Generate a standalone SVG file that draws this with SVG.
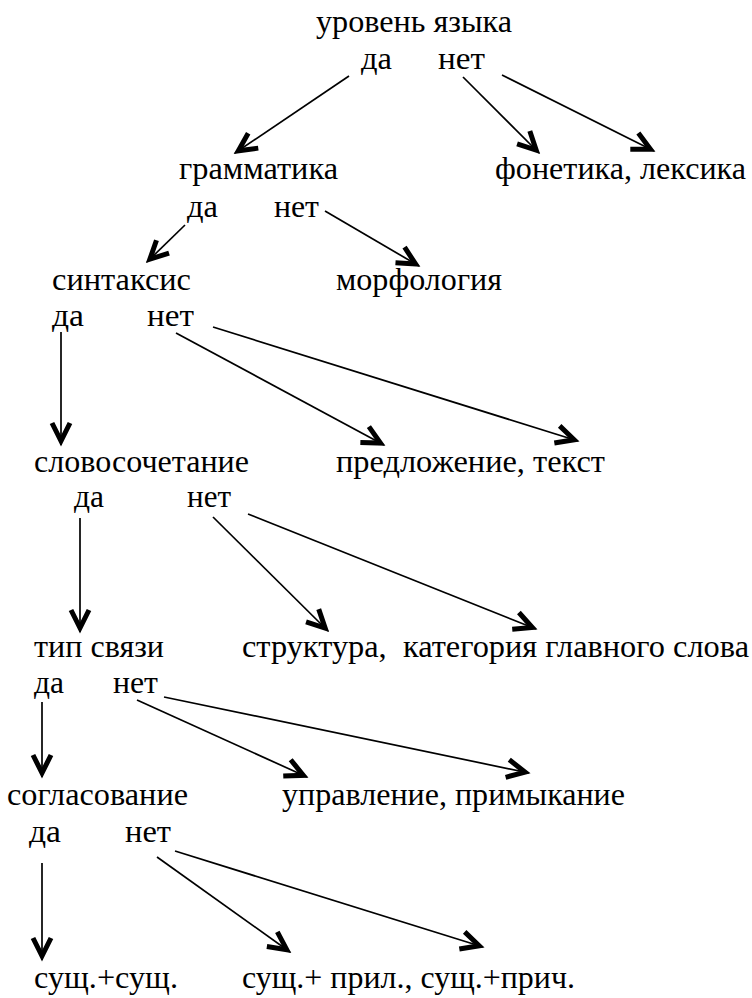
<svg xmlns="http://www.w3.org/2000/svg" width="752" height="998" viewBox="0 0 752 998">
<style>
.t text{font-size:31px;fill:#000;white-space:pre}
.c line{stroke:#000;stroke-width:1.7;marker-end:url(#v)}
</style>
<defs>
<marker id="v" viewBox="0 0 28 22" refX="25" refY="11" markerWidth="28" markerHeight="22" markerUnits="userSpaceOnUse" orient="auto" overflow="visible">
<path d="M3,2 L21,11 L3,20" fill="none" stroke="#000" stroke-width="5"/>
</marker>
</defs>
<rect width="752" height="998" fill="#fff"/>
<g class="t" font-family="'Liberation Serif', 'DejaVu Serif', serif">
<g id="n-uroven"><text x="316" y="32" textLength="196" lengthAdjust="spacingAndGlyphs">уровень языка</text><text x="361" y="69" textLength="31" lengthAdjust="spacingAndGlyphs">да</text><text x="438" y="69" textLength="47" lengthAdjust="spacingAndGlyphs">нет</text></g>
<g id="n-gram"><text x="179" y="179" textLength="159" lengthAdjust="spacingAndGlyphs">грамматика</text><text x="187" y="217" textLength="31" lengthAdjust="spacingAndGlyphs">да</text><text x="274" y="217" textLength="45" lengthAdjust="spacingAndGlyphs">нет</text></g>
<g id="n-fonet"><text x="495" y="179" textLength="251" lengthAdjust="spacingAndGlyphs">фонетика, лексика</text></g>
<g id="n-sint"><text x="52" y="290" textLength="139" lengthAdjust="spacingAndGlyphs">синтаксис</text><text x="52" y="326" textLength="32" lengthAdjust="spacingAndGlyphs">да</text><text x="147" y="326" textLength="47" lengthAdjust="spacingAndGlyphs">нет</text></g>
<g id="n-morf"><text x="336" y="290" textLength="166" lengthAdjust="spacingAndGlyphs">морфология</text></g>
<g id="n-slovos"><text x="34" y="472" textLength="215" lengthAdjust="spacingAndGlyphs">словосочетание</text><text x="74" y="507" textLength="30" lengthAdjust="spacingAndGlyphs">да</text><text x="187" y="507" textLength="44" lengthAdjust="spacingAndGlyphs">нет</text></g>
<g id="n-predl"><text x="336" y="472" textLength="269" lengthAdjust="spacingAndGlyphs">предложение, текст</text></g>
<g id="n-tip"><text x="34" y="657" textLength="130" lengthAdjust="spacingAndGlyphs">тип связи</text><text x="34" y="693" textLength="30" lengthAdjust="spacingAndGlyphs">да</text><text x="113" y="693" textLength="45" lengthAdjust="spacingAndGlyphs">нет</text></g>
<g id="n-strukt"><text x="242" y="657" textLength="507" lengthAdjust="spacingAndGlyphs">структура,  категория главного слова</text></g>
<g id="n-sogl"><text x="7" y="805" textLength="181" lengthAdjust="spacingAndGlyphs">согласование</text><text x="29" y="842" textLength="32" lengthAdjust="spacingAndGlyphs">да</text><text x="125" y="842" textLength="46" lengthAdjust="spacingAndGlyphs">нет</text></g>
<g id="n-uprav"><text x="282" y="805" textLength="343" lengthAdjust="spacingAndGlyphs">управление, примыкание</text></g>
<g id="n-ss"><text x="34" y="988" textLength="144" lengthAdjust="spacingAndGlyphs">сущ.+сущ.</text></g>
<g id="n-sp"><text x="242" y="988" textLength="333" lengthAdjust="spacingAndGlyphs">сущ.+ прил., сущ.+прич.</text></g>
</g>
<g id="connectors" class="c">
<line x1="349" y1="76" x2="235" y2="153"/>
<line x1="463" y1="77" x2="539" y2="153"/>
<line x1="502" y1="75" x2="654" y2="151"/>
<line x1="185" y1="225" x2="147" y2="262"/>
<line x1="325" y1="211" x2="419" y2="266"/>
<line x1="61" y1="332" x2="61" y2="445"/>
<line x1="176" y1="333" x2="384" y2="445"/>
<line x1="213" y1="327" x2="578" y2="441"/>
<line x1="80" y1="518" x2="80" y2="632"/>
<line x1="213" y1="517" x2="328" y2="631"/>
<line x1="248" y1="514" x2="536" y2="629"/>
<line x1="42" y1="702" x2="42" y2="777"/>
<line x1="137" y1="700" x2="307" y2="777"/>
<line x1="164" y1="697" x2="529" y2="773"/>
<line x1="42" y1="863" x2="42" y2="960"/>
<line x1="157" y1="857" x2="290" y2="952"/>
<line x1="175" y1="851" x2="483" y2="947"/>
</g>
</svg>
